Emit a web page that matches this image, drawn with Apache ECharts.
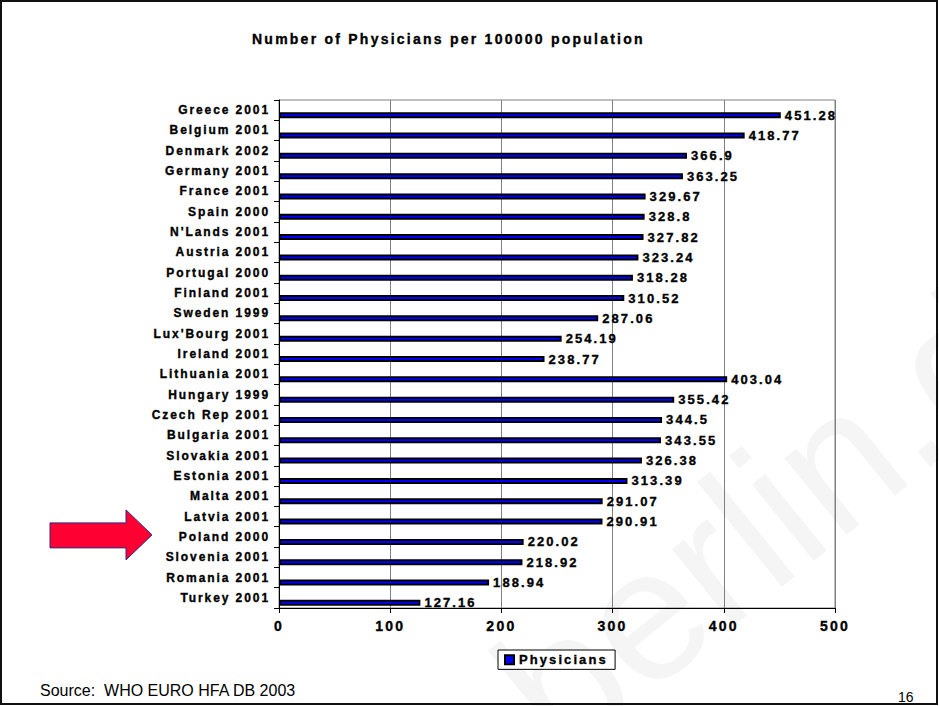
<!DOCTYPE html>
<html>
<head>
<meta charset="utf-8">
<script src="https://cdn.jsdelivr.net/npm/echarts@6/dist/echarts.min.js"></script>
<style>
  html, body { margin: 0; padding: 0; background: #fff; }
  #chart { width: 939px; height: 706px; }
  /* chart lettering is widely tracked; slide text (normal weight) is not */
  #chart text[style*="bold"] { letter-spacing: 0.16em; }
</style>
</head>
<body>
<div id="chart"></div>
<script>
// Physicians per 100000 population, listed top to bottom
const countries = [
  "Greece 2001", "Belgium 2001", "Denmark 2002", "Germany 2001", "France 2001",
  "Spain 2000", "N'Lands 2001", "Austria 2001", "Portugal 2000", "Finland 2001",
  "Sweden 1999", "Lux'Bourg 2001", "Ireland 2001", "Lithuania 2001", "Hungary 1999",
  "Czech Rep 2001", "Bulgaria 2001", "Slovakia 2001", "Estonia 2001", "Malta 2001",
  "Latvia 2001", "Poland 2000", "Slovenia 2001", "Romania 2001", "Turkey 2001"
];
const physicians = [
  451.28, 418.77, 366.9, 363.25, 329.67,
  328.8, 327.82, 323.24, 318.28, 310.52,
  287.06, 254.19, 238.77, 403.04, 355.42,
  344.5, 343.55, 326.38, 313.39, 291.07,
  290.91, 220.02, 218.92, 188.94, 127.16
];
const valueTicks = { min: 0, max: 500, step: 100 };
const highlighted = "Poland 2000";

const FONT = "'Liberation Sans', Arial, sans-serif";
// slightly heavier strokes for the bold chart lettering
const heavy = { textBorderColor: '#000', textBorderWidth: 0.35 };

const chart = echarts.init(document.getElementById('chart'), null, { renderer: 'svg' });

const option = {
  backgroundColor: '#ffffff',
  animation: false,
  title: {
    text: 'Number of Physicians per 100000 population',
    left: 247,
    top: 27,
    textStyle: Object.assign({ fontFamily: FONT, fontSize: 14, fontWeight: 'bold', color: '#000' }, heavy)
  },
  legend: {
    data: ['Physicians'],
    left: 498,
    top: 650,
    orient: 'horizontal',
    icon: 'rect',
    itemWidth: 9,
    itemHeight: 9,
    padding: [3, 28, 3, 6],
    borderColor: '#000',
    borderWidth: 1,
    backgroundColor: '#fff',
    textStyle: Object.assign({ fontFamily: FONT, fontSize: 13, fontWeight: 'bold', color: '#000' }, heavy)
  },
  grid: {
    left: 279, right: 104, top: 100, bottom: 98,
    show: true,
    borderColor: '#808080',
    borderWidth: 1,
    backgroundColor: 'transparent'
  },
  xAxis: {
    type: 'value',
    min: valueTicks.min,
    max: valueTicks.max,
    interval: valueTicks.step,
    axisLine: { show: true, lineStyle: { color: '#000', width: 1 } },
    axisTick: { show: true, length: 5, lineStyle: { color: '#000' } },
    axisLabel: Object.assign({ margin: 11, fontFamily: FONT, fontSize: 14, fontWeight: 'bold', color: '#000' }, heavy),
    splitLine: { show: true, lineStyle: { color: '#808080', width: 1 } }
  },
  yAxis: {
    type: 'category',
    data: countries,
    inverse: true,
    axisLine: { show: true, lineStyle: { color: '#000', width: 1 } },
    axisTick: { show: true, length: 5, lineStyle: { color: '#000' } },
    axisLabel: Object.assign({ interval: 0, margin: 9, fontFamily: FONT, fontSize: 12, fontWeight: 'bold', color: '#000' }, heavy),
    splitLine: { show: false }
  },
  series: [
    {
      // empty slot that pushes the visible bar toward the lower half of each band
      name: 'slot',
      type: 'bar',
      data: countries.map(() => null),
      barWidth: 6,
      silent: true,
      itemStyle: { color: 'transparent' }
    },
    {
      name: 'Physicians',
      type: 'bar',
      data: physicians,
      barWidth: 6,
      barGap: '67%',
      itemStyle: { color: '#0000ff', borderColor: '#000', borderWidth: 2 },
      label: Object.assign({
        show: true,
        position: 'right',
        distance: 4,
        fontFamily: FONT,
        fontSize: 13,
        fontWeight: 'bold',
        color: '#000'
      }, heavy)
    }
  ]
};

chart.setOption(option);

// slide decorations: frame, pointer arrow, source note, page number, faint watermark
const tipY = chart.convertToPixel({ yAxisIndex: 0 }, highlighted) - 2;
const arrowPts = [
  [50, tipY - 12], [126, tipY - 12], [126, tipY - 25], [152, tipY],
  [126, tipY + 25], [126, tipY + 13], [50, tipY + 13]
];

chart.setOption({
  graphic: [
    {
      type: 'text',
      z: -10,
      x: 581, y: 786,
      rotation: 0.68,
      style: {
        text: 'berlin.de',
        font: 'normal 186px ' + FONT,
        fill: '#f5f5f5',
        textAlign: 'left',
        textVerticalAlign: 'bottom'
      },
      silent: true
    },
    {
      type: 'polygon',
      shape: { points: arrowPts },
      style: { fill: '#ff0033', stroke: '#2a2a8a', lineWidth: 1 }
    },
    {
      type: 'text',
      x: 40, y: 690,
      style: {
        text: 'Source:  WHO EURO HFA DB 2003',
        font: 'normal 16px ' + FONT,
        fill: '#000',
        textVerticalAlign: 'middle'
      }
    },
    {
      type: 'text',
      x: 898, y: 697,
      style: {
        text: '16',
        font: 'normal 14px ' + FONT,
        fill: '#000',
        textVerticalAlign: 'middle'
      }
    },
    {
      type: 'rect',
      shape: { x: 1, y: 1, width: 936, height: 703 },
      style: { fill: 'none', stroke: '#111', lineWidth: 2 }
    }
  ]
});
</script>
</body>
</html>
